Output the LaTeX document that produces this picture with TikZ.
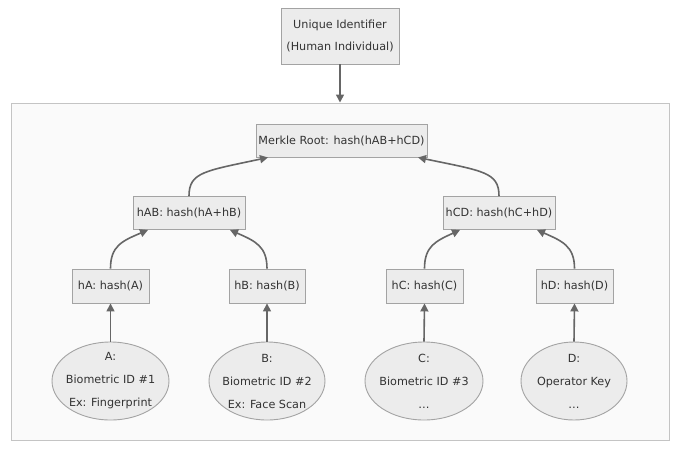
\documentclass[tikz,border=0pt]{standalone}
\usepackage{fontspec}
\setmainfont{DejaVu Sans}
\usetikzlibrary{arrows.meta,shapes.geometric,calc}
\definecolor{edgecol}{HTML}{666666}
\definecolor{boxfill}{HTML}{ECECEC}
\definecolor{boxline}{HTML}{A3A3A3}
\definecolor{grpfill}{HTML}{FAFAFA}
\definecolor{grpline}{HTML}{C4C4C4}
\definecolor{txt}{HTML}{333333}
\begin{document}
\begin{tikzpicture}[x=1pt,y=-1pt,
  font=\fontsize{11.2}{22}\selectfont, text=txt,
  hbox/.style={draw=boxline, fill=boxfill, line width=0.9pt, inner sep=0pt, align=center},
  leaf/.style={ellipse, draw=boxline, fill=boxfill, line width=0.9pt, inner sep=0pt, minimum height=78pt},
  lbl/.style={align=center, inner sep=0pt, font=\fontsize{11.2}{23}\selectfont},
  conn/.style={draw=edgecol, line width=1.6pt, -{Triangle[length=8pt,width=8pt]}}]
\useasboundingbox (0,0) rectangle (680,448);
\node[draw=grpline, fill=grpfill, line width=1pt, minimum width=658pt, minimum height=337pt, inner sep=0pt] (grp) at (340,271.5) {};
\node[hbox, minimum width=118pt, minimum height=56pt] (uid) at (340,36) {Unique Identifier\\(Human Individual)};
\node[hbox, minimum width=171pt, minimum height=33pt] (mr) at (341.5,140.5) {Merkle Root: hash(hAB+hCD)};
\node[hbox, minimum width=112pt, minimum height=33pt] (hAB) at (189,213) {hAB: hash(hA+hB)};
\node[hbox, minimum width=112pt, minimum height=33pt] (hCD) at (499,213) {hCD: hash(hC+hD)};
\node[hbox, minimum width=77pt, minimum height=34pt] (hA) at (110.5,286) {hA: hash(A)};
\node[hbox, minimum width=76pt, minimum height=34pt] (hB) at (267,286) {hB: hash(B)};
\node[hbox, minimum width=77pt, minimum height=34pt] (hC) at (424.5,286) {hC: hash(C)};
\node[hbox, minimum width=77pt, minimum height=34pt] (hD) at (574.5,286) {hD: hash(D)};
\node[leaf, minimum width=117pt] (A) at (110.5,381) {};
\node[leaf, minimum width=116pt] (B) at (267,381) {};
\node[leaf, minimum width=118pt] (C) at (424,381) {};
\node[leaf, minimum width=106pt] (D) at (574,381) {};
\node[lbl] (At) at (A) {A:\\Biometric ID \#1\\Ex: Fingerprint};
\node[lbl] (Bt) at (B) {B:\\Biometric ID \#2\\Ex: Face Scan};
\node[lbl] (Ct) at (C) {C:\\Biometric ID \#3\\\dots};
\node[lbl] (Dt) at (D) {D:\\Operator Key\\\dots};
\draw[conn] (uid.south) -- (grp.north);
\draw[conn] (A.north) -- (hA.south);
\draw[conn] (B.north) -- (hB.south);
\draw[conn] (C.north) -- (hC.south);
\draw[conn] (D.north) -- (hD.south);
\draw[conn] (hA.north) .. controls (110.5,246) and (122,241) .. ($(hAB.south)+(-41,0)$);
\draw[conn] (hB.north) .. controls (267,246) and (255,241) .. ($(hAB.south)+(41,0)$);
\draw[conn] (hC.north) .. controls (424.5,246) and (436,241) .. ($(hCD.south)+(-39,0)$);
\draw[conn] (hD.north) .. controls (574.5,246) and (562,241) .. ($(hCD.south)+(38,0)$);
\draw[conn] (hAB.north) .. controls (189,172) and (205,171) .. ($(mr.south)+(-73.5,0)$);
\draw[conn] (hCD.north) .. controls (499,172) and (483,171) .. ($(mr.south)+(76.5,0)$);
\end{tikzpicture}
\end{document}
